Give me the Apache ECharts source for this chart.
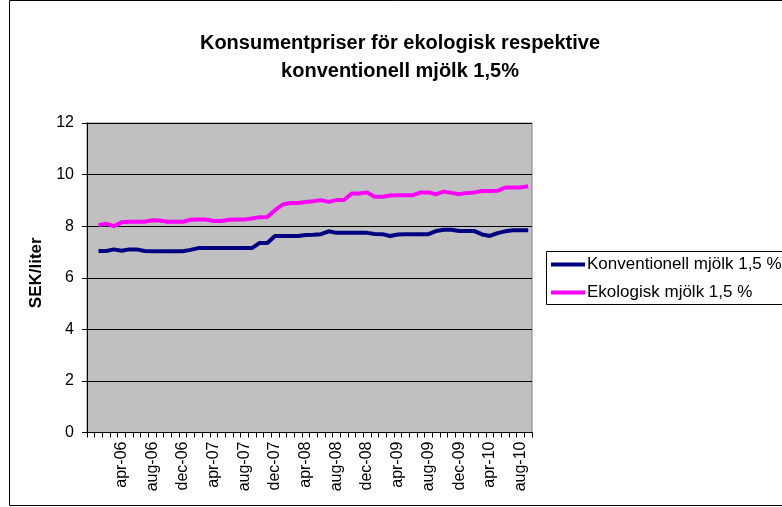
<!DOCTYPE html>
<html>
<head>
<meta charset="utf-8">
<title>Konsumentpriser för ekologisk respektive konventionell mjölk 1,5%</title>
<script src="https://cdn.jsdelivr.net/npm/echarts@6/dist/echarts.min.js"></script>
<style>
  html, body { margin: 0; padding: 0; background: #fff; }
  #chart { width: 782px; height: 507px; }
</style>
</head>
<body>
<div id="chart"></div>
<script>
// Months from jan-06 to sep-10, preceded by one empty slot on the axis
const months = ['',
  'jan-06','feb-06','mar-06','apr-06','maj-06','jun-06','jul-06','aug-06','sep-06','okt-06','nov-06','dec-06',
  'jan-07','feb-07','mar-07','apr-07','maj-07','jun-07','jul-07','aug-07','sep-07','okt-07','nov-07','dec-07',
  'jan-08','feb-08','mar-08','apr-08','maj-08','jun-08','jul-08','aug-08','sep-08','okt-08','nov-08','dec-08',
  'jan-09','feb-09','mar-09','apr-09','maj-09','jun-09','jul-09','aug-09','sep-09','okt-09','nov-09','dec-09',
  'jan-10','feb-10','mar-10','apr-10','maj-10','jun-10','jul-10','aug-10','sep-10'
];

// Konventionell mjölk 1,5 % (SEK/liter)
const konventionell = [null,
  7.04, 7.04, 7.10, 7.05, 7.10, 7.10, 7.04, 7.03, 7.03, 7.03, 7.03, 7.03,
  7.08, 7.15, 7.15, 7.15, 7.15, 7.15, 7.15, 7.15, 7.15, 7.35, 7.35, 7.62,
  7.62, 7.62, 7.62, 7.66, 7.67, 7.69, 7.80, 7.74, 7.74, 7.74, 7.74, 7.74,
  7.70, 7.69, 7.62, 7.68, 7.69, 7.69, 7.69, 7.69, 7.81, 7.86, 7.86, 7.81,
  7.81, 7.81, 7.68, 7.62, 7.73, 7.80, 7.84, 7.84, 7.84
];

// Ekologisk mjölk 1,5 % (SEK/liter)
const ekologisk = [null,
  8.04, 8.10, 8.00, 8.15, 8.17, 8.17, 8.17, 8.23, 8.22, 8.17, 8.17, 8.17,
  8.25, 8.26, 8.26, 8.20, 8.20, 8.25, 8.26, 8.26, 8.30, 8.35, 8.36, 8.62,
  8.84, 8.90, 8.90, 8.94, 8.97, 9.01, 8.94, 9.01, 9.01, 9.27, 9.27, 9.31,
  9.14, 9.14, 9.19, 9.20, 9.20, 9.20, 9.31, 9.31, 9.24, 9.34, 9.29, 9.24,
  9.29, 9.31, 9.36, 9.36, 9.37, 9.50, 9.50, 9.50, 9.55
];

const yTicks = { min: 0, max: 12, interval: 2 };

const font = '"Liberation Sans", Arial, sans-serif';
const chart = echarts.init(document.getElementById('chart'), null, { renderer: 'canvas' });

chart.setOption({
  animation: false,
  backgroundColor: '#ffffff',
  textStyle: { fontFamily: font, color: '#000' },
  title: {
    text: 'Konsumentpriser för ekologisk respektive\nkonventionell mjölk 1,5%',
    left: 395,
    top: 24,
    textAlign: 'center',
    textStyle: { fontFamily: font, fontSize: 20, fontWeight: 'bold', color: '#000', lineHeight: 28 }
  },
  graphic: [
    {
      type: 'rect', silent: true, z: -1,
      shape: { x: 9.5, y: 0.5, width: 800, height: 505 },
      style: { fill: 'none', stroke: '#000', lineWidth: 1 }
    },
    {
      type: 'rect', silent: true,
      shape: { x: 546.5, y: 251.5, width: 260, height: 53 },
      style: { fill: '#fff', stroke: '#000', lineWidth: 1 }
    }
  ],
  legend: {
    orient: 'vertical',
    left: 551,
    top: 256,
    padding: 0,
    itemGap: 11,
    itemWidth: 34,
    itemHeight: 4,
    icon: 'rect',
    z: 10,
    textStyle: { fontFamily: font, fontSize: 17, color: '#000', padding: [0, 0, 0, -3] },
    data: ['Konventionell mjölk 1,5 %', 'Ekologisk mjölk 1,5 %']
  },
  grid: {
    left: 87,
    top: 123,
    width: 445,
    height: 309.5,
    show: true,
    backgroundColor: '#C0C0C0',
    borderColor: '#808080',
    borderWidth: 1
  },
  xAxis: {
    type: 'category',
    data: months,
    boundaryGap: true,
    axisLine: { show: true, lineStyle: { color: '#000', width: 1 } },
    axisTick: { show: true, interval: 0, length: 5, inside: false, alignWithLabel: false, lineStyle: { color: '#000' } },
    axisLabel: { interval: 3, rotate: 90, margin: 9, fontFamily: font, fontSize: 16, color: '#000' },
    splitLine: { show: false }
  },
  yAxis: {
    type: 'value',
    min: yTicks.min,
    max: yTicks.max,
    interval: yTicks.interval,
    name: 'SEK/liter',
    nameLocation: 'middle',
    nameGap: 42,
    nameRotate: 90,
    nameTextStyle: { fontFamily: font, fontSize: 17, fontWeight: 'bold', color: '#000', padding: [0, 0, 0, 10] },
    axisLine: { show: true, lineStyle: { color: '#000', width: 1 } },
    axisTick: { show: true, length: 5, inside: false, lineStyle: { color: '#000' } },
    axisLabel: { margin: 13, fontFamily: font, fontSize: 16, color: '#000' },
    splitLine: { show: true, lineStyle: { color: '#000', width: 1 } }
  },
  series: [
    {
      name: 'Konventionell mjölk 1,5 %',
      type: 'line',
      data: konventionell,
      showSymbol: false,
      symbol: 'none',
      connectNulls: false,
      color: '#000080',
      lineStyle: { color: '#000080', width: 4 },
      z: 3
    },
    {
      name: 'Ekologisk mjölk 1,5 %',
      type: 'line',
      data: ekologisk,
      showSymbol: false,
      symbol: 'none',
      connectNulls: false,
      color: '#FF00FF',
      lineStyle: { color: '#FF00FF', width: 4 },
      z: 3
    }
  ]
});
</script>
</body>
</html>
